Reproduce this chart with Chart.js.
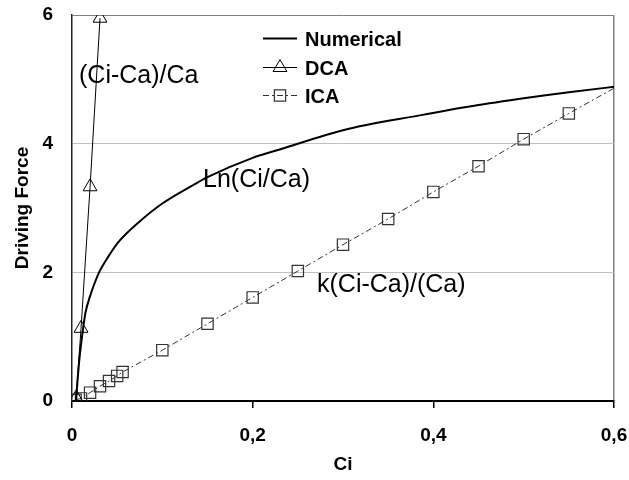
<!DOCTYPE html>
<html>
<head>
<meta charset="utf-8">
<script src="https://cdn.jsdelivr.net/npm/chart.js@4.4.1/dist/chart.umd.min.js"></script>
<style>
  html, body { margin: 0; padding: 0; background: #fff; }
</style>
</head>
<body>
<canvas id="forceChart" width="629" height="480"></canvas>
<script>
// Numerical solution, Ln(Ci/Ca)
const ciNumerical = [0.0046, 0.005, 0.0075, 0.01, 0.0125, 0.015, 0.02, 0.025, 0.03, 0.04, 0.052, 0.074,
                     0.1, 0.137, 0.15, 0.2, 0.23, 0.3, 0.385, 0.45, 0.518, 0.55, 0.61];
const forceNumerical = [0, 0.1, 0.55, 0.88, 1.15, 1.38, 1.63, 1.83, 2.0, 2.24, 2.48, 2.78,
                        3.07, 3.38, 3.48, 3.78, 3.91, 4.21, 4.44, 4.6, 4.74, 4.8, 4.9];

// DCA, (Ci-Ca)/Ca
const ciDCA = [0.0046, 0.01, 0.02, 0.031];
const forceDCA = [0.05, 1.13, 3.33, 5.95];

// ICA, k(Ci-Ca)/(Ca)
const ciICA = [0.004, 0.01, 0.02, 0.031, 0.041, 0.05, 0.056, 0.1, 0.15, 0.2, 0.25, 0.3,
               0.35, 0.4, 0.45, 0.5, 0.55, 0.61];
const forceICA = [0.02, 0.04, 0.13, 0.23, 0.31, 0.39, 0.45, 0.79, 1.2, 1.61, 2.02, 2.43,
                  2.83, 3.25, 3.65, 4.07, 4.47, 4.94];

const xTicks = [0, 0.2, 0.4, 0.6];
const yTicks = [0, 2, 4, 6];

const toPoints = (xs, ys) => xs.map((x, i) => ({ x: x, y: ys[i] }));

Chart.defaults.font.family = 'Arial, "Liberation Sans", sans-serif';
Chart.defaults.color = '#000';

// legend drawn as a vertical list inside the plot
const legendPlugin = {
    id: 'insideLegend',
    afterDraw(chart) {
        const ctx = chart.ctx;
        const x0 = 263, x1 = 297, textX = 305;
        const baselines = [46, 75, 103];
        ctx.save();
        chart.data.datasets.forEach((ds, i) => {
            const yb = baselines[i];
            const y = yb - 7.5;
            ctx.strokeStyle = ds.borderColor;
            ctx.lineWidth = ds.borderWidth;
            ctx.setLineDash(ds.borderDash || []);
            ctx.beginPath();
            ctx.moveTo(x0, y);
            ctx.lineTo(x1, y);
            ctx.stroke();
            ctx.setLineDash([]);
            if (ds.pointRadius > 0) {
                ctx.strokeStyle = ds.pointBorderColor;
                ctx.fillStyle = 'rgba(0,0,0,0)';
                ctx.lineWidth = ds.pointBorderWidth;
                Chart.helpers.drawPoint(ctx, {
                    pointStyle: ds.pointStyle,
                    radius: ds.pointRadius,
                    rotation: 0,
                    borderWidth: ds.pointBorderWidth
                }, (x0 + x1) / 2, y);
            }
            ctx.fillStyle = '#000';
            ctx.font = 'bold 20px Arial, "Liberation Sans", sans-serif';
            ctx.textAlign = 'left';
            ctx.textBaseline = 'alphabetic';
            ctx.fillText(ds.label, textX, yb);
        });
        ctx.restore();
    }
};

// curve names written next to each curve
const curveLabelPlugin = {
    id: 'curveLabels',
    afterDatasetsDraw(chart) {
        const ctx = chart.ctx;
        const labels = [
            { text: '(Ci-Ca)/Ca', x: 79, y: 83 },
            { text: 'Ln(Ci/Ca)', x: 203, y: 187 },
            { text: 'k(Ci-Ca)/(Ca)', x: 317, y: 292 }
        ];
        ctx.save();
        ctx.fillStyle = '#000';
        ctx.font = '25px Arial, "Liberation Sans", sans-serif';
        ctx.textAlign = 'left';
        ctx.textBaseline = 'alphabetic';
        labels.forEach(l => ctx.fillText(l.text, l.x, l.y));
        ctx.restore();
    }
};

const fmtTick = v => (v === 0 ? '0' : v.toFixed(1).replace('.', ','));

new Chart(document.getElementById('forceChart'), {
    type: 'line',
    data: {
        datasets: [
            {
                label: 'Numerical',
                data: toPoints(ciNumerical, forceNumerical),
                borderColor: '#000',
                borderWidth: 2,
                pointRadius: 0,
                cubicInterpolationMode: 'monotone'
            },
            {
                label: 'DCA',
                data: toPoints(ciDCA, forceDCA),
                borderColor: '#000',
                borderWidth: 1,
                pointStyle: 'triangle',
                pointRadius: 8,
                pointBorderWidth: 1,
                pointBorderColor: '#000',
                pointBackgroundColor: 'rgba(0,0,0,0)'
            },
            {
                label: 'ICA',
                data: toPoints(ciICA, forceICA),
                borderColor: '#303030',
                borderWidth: 1,
                borderDash: [6, 3, 2, 3],
                pointStyle: 'rect',
                pointRadius: 8,
                pointBorderWidth: 1.2,
                pointBorderColor: '#333',
                pointBackgroundColor: 'rgba(0,0,0,0)'
            }
        ]
    },
    options: {
        responsive: false,
        animation: false,
        layout: { padding: { top: 15, right: 15, bottom: 0, left: 0 } },
        plugins: {
            legend: { display: false },
            tooltip: { enabled: false }
        },
        scales: {
            x: {
                type: 'linear',
                min: 0,
                max: 0.6,
                afterBuildTicks: scale => { scale.ticks = xTicks.map(v => ({ value: v })); },
                afterFit: scale => {
                    scale.height = 79;
                    scale.paddingLeft = 0;
                    scale.paddingRight = 0;
                },
                ticks: {
                    font: { size: 19, weight: 'bold' },
                    padding: 16,
                    maxRotation: 0,
                    callback: v => fmtTick(v)
                },
                grid: {
                    color: c => (c.index === xTicks.length - 1 ? '#808080' : 'rgba(0,0,0,0)'),
                    tickColor: '#000',
                    tickLength: 7,
                    lineWidth: 1.5
                },
                border: { color: '#000', width: 2 },
                title: {
                    display: true,
                    text: 'Ci',
                    font: { size: 19, weight: 'bold' },
                    padding: { top: 0, bottom: 4 }
                }
            },
            y: {
                type: 'linear',
                min: 0,
                max: 6,
                afterBuildTicks: scale => { scale.ticks = yTicks.map(v => ({ value: v })); },
                afterFit: scale => {
                    scale.width = 72;
                    scale.paddingTop = 0;
                    scale.paddingBottom = 0;
                },
                ticks: {
                    font: { size: 19, weight: 'bold' },
                    padding: 19,
                    callback: v => String(v)
                },
                grid: {
                    drawTicks: false,
                    color: c => {
                        if (c.tick.value === 0) return 'rgba(0,0,0,0)';
                        if (c.tick.value === 6) return '#808080';
                        return '#c0c0c0';
                    },
                    lineWidth: 1
                },
                border: { color: '#222', width: 1.5 },
                title: {
                    display: true,
                    text: 'Driving Force',
                    font: { size: 19, weight: 'bold' },
                    padding: { top: 11, bottom: 0 }
                }
            }
        }
    },
    plugins: [legendPlugin, curveLabelPlugin]
});
</script>
</body>
</html>
